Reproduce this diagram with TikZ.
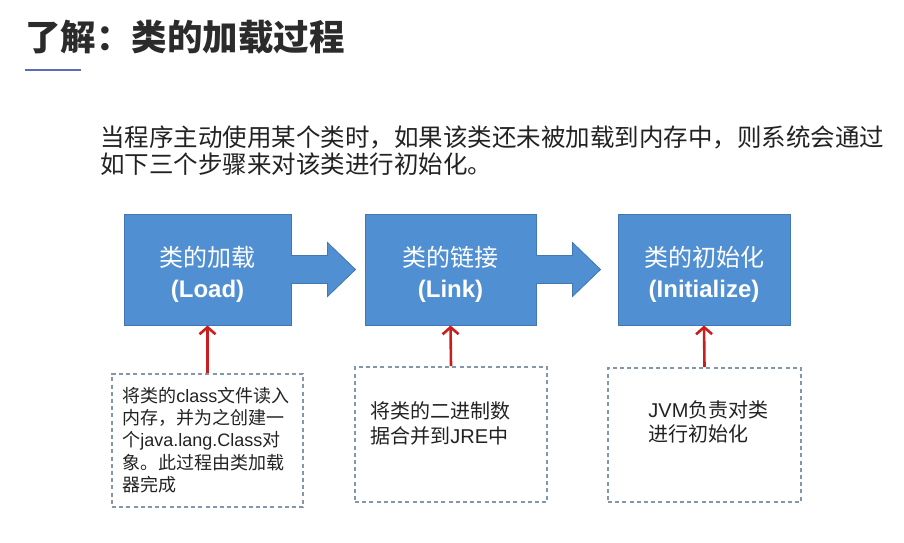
\documentclass[tikz,border=0pt]{standalone}
\usepackage{fontspec}
\setmainfont{Liberation Sans}
\newfontfamily\cjk{Noto Sans CJK SC}
\usetikzlibrary{arrows.meta,calc}
\definecolor{titlegray}{HTML}{2B2B2B}
\definecolor{textdark}{HTML}{222222}
\definecolor{boxblue}{HTML}{4F8FD2}
\definecolor{boxedge}{HTML}{4178B3}
\definecolor{linered}{HTML}{C81E1E}
\definecolor{dashgray}{HTML}{8396AA}
\definecolor{ulblue}{HTML}{5B6DB5}
\newcommand{\toppad}{\rule{0pt}{14.6pt}}
\tikzset{
  stagebox/.style={draw=boxedge, line width=0.5pt, fill=boxblue, text=white,
    align=center, inner sep=0pt, minimum height=55.5pt,
    font=\fontsize{12}{15}\selectfont},
  blockfill/.style={fill=boxblue},
  blockedge/.style={draw=boxedge, line width=0.4pt, line join=miter},
  notebox/.style={draw=dashgray, line width=1pt, dash pattern=on 2pt off 1.6pt,
    inner sep=0pt},
  notetext/.style={text=textdark, align=left, anchor=west, inner sep=0pt},
  uparrow/.style={draw=linered, line width=1.3pt,
    -{Straight Barb[length=3.5pt,width=8pt,line width=1.3pt]}}
}
\begin{document}
\begin{tikzpicture}[x=0.5pt,y=-0.5pt]
\useasboundingbox (0,0) rectangle (904,542);
% title
\node[anchor=west, inner sep=0pt, text=titlegray, font=\fontsize{17.75}{20}\selectfont\cjk\bfseries] (title) at (25,37) {了解：类的加载过程};
\draw[ulblue, line width=1.3pt] (25,70) -- (81,70);
% paragraph
\node[anchor=west, inner sep=0pt, text=textdark, font=\fontsize{12.25}{15}\selectfont\cjk] (p1) at (100,137) {当程序主动使用某个类时，如果该类还未被加载到内存中，则系统会通过};
\node[anchor=west, inner sep=0pt, text=textdark, font=\fontsize{12.25}{15}\selectfont\cjk] (p2) at (100,164) {如下三个步骤来对该类进行初始化。};
% stage boxes
\node[stagebox, minimum width=83.5pt] (b1) at (207.5,269.5)
  {{\cjk\toppad 类的加载}\\[0.5pt]\textbf{(Load)}};
\node[stagebox, minimum width=85.5pt] (b2) at (450.5,269.5)
  {{\cjk\toppad 类的链接}\\[0.5pt]\textbf{(Link)}};
\node[stagebox, minimum width=86pt] (b3) at (704,269.5)
  {{\cjk\toppad 类的初始化}\\[0.5pt]\textbf{(Initialize)}};
% block arrows joined to the boxes
\foreach \b in {b1,b2}{
  \fill[blockfill] ($(\b.east)+(-1,-14)$) -- ($(\b.east)+(36,-14)$) -- ($(\b.east)+(36,-27)$)
    -- ($(\b.east)+(64,0)$) -- ($(\b.east)+(36,27)$) -- ($(\b.east)+(36,14)$) -- ($(\b.east)+(-1,14)$) -- cycle;
  \draw[blockedge] ($(\b.east)+(0,-14)$) -- ($(\b.east)+(36,-14)$) -- ($(\b.east)+(36,-27)$)
    -- ($(\b.east)+(64,0)$) -- ($(\b.east)+(36,27)$) -- ($(\b.east)+(36,14)$) -- ($(\b.east)+(0,14)$);
}
% dashed note boxes
\node[notebox, minimum width=95.5pt, minimum height=66.5pt] (d1) at (207.5,440.5) {};
\node[notebox, minimum width=96pt, minimum height=67.5pt] (d2) at (451,434.5) {};
\node[notebox, minimum width=96.5pt, minimum height=67pt] (d3) at (704.5,435) {};
% note texts
\node[notetext, font=\fontsize{9}{11.2}\selectfont] (t1) at (122,440)
  {{\cjk 将类的}class{\cjk 文件读入}\\{\cjk 内存，并为之创建一}\\{\cjk 个}java.lang.Class{\cjk 对}\\{\cjk 象。此过程由类加载}\\{\cjk 器完成}};
\node[notetext, font=\fontsize{10}{12.5}\selectfont] (t2) at (370,423)
  {{\cjk 将类的二进制数}\\{\cjk 据合并到}JRE{\cjk 中}};
\node[notetext, font=\fontsize{10}{12}\selectfont] (t3) at (648,422)
  {JVM{\cjk 负责对类}\\{\cjk 进行初始化}};
% red arrows
\draw[uparrow] (d1.north) -- (b1.south);
\draw[uparrow] (d2.north) -- (b2.south);
\draw[uparrow] (d3.north) -- (b3.south);
\end{tikzpicture}
\end{document}
